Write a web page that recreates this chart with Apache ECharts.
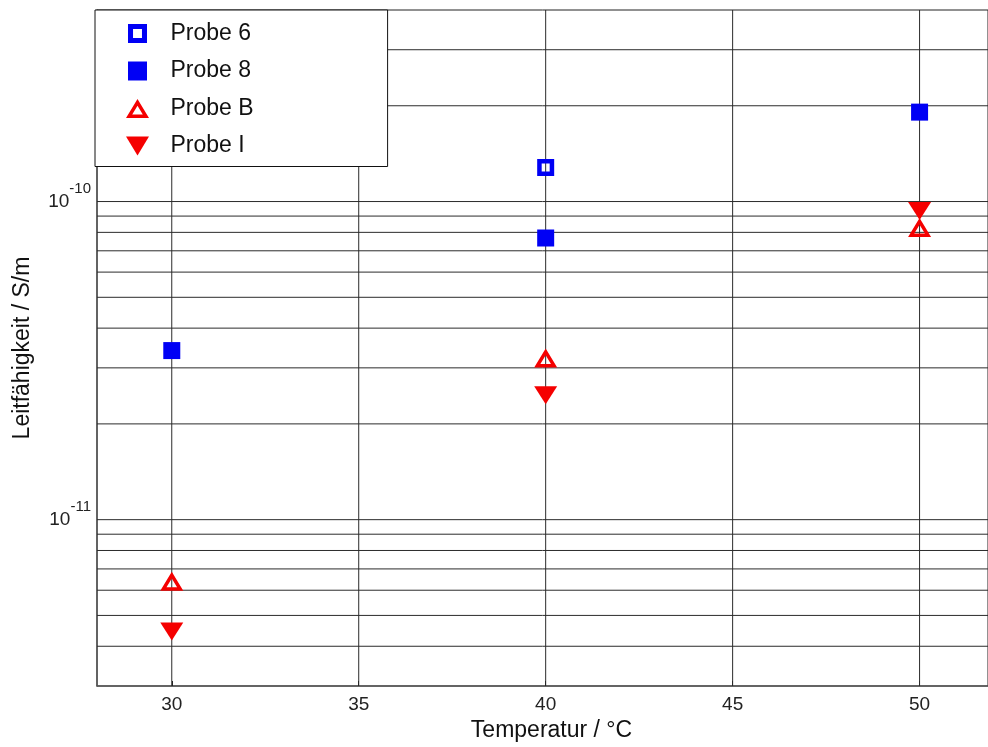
<!DOCTYPE html>
<html>
<head>
<meta charset="utf-8">
<script src="https://cdn.jsdelivr.net/npm/echarts@6/dist/echarts.min.js"></script>
<style>
  html, body { margin: 0; padding: 0; background: #fff; }
  #chart { width: 988px; height: 747px; }
</style>
</head>
<body>
<div id="chart"></div>
<script>
// Temperatures (°C) at which the conductivity was measured
const temperatures = [30, 40, 50];
// Conductivity in S/m per sample (null = not measured)
const probe6 = [null, 1.28e-10, null];
const probe8 = [3.40e-11, 7.68e-11, 1.91e-10];
const probeB = [6.40e-12, 3.22e-11, 8.29e-11];
const probeI = [4.45e-12, 2.46e-11, 9.33e-11];

// Axis ranges and ticks
const xRange = [28, 51.83];
const yRange = [3e-12, 4e-10];
const xTicks = [30, 35, 40, 45, 50];
// Horizontal reference lines (every 1..9 × 10^n inside the range)
const yGridValues = [
  4e-12, 5e-12, 6e-12, 7e-12, 8e-12, 9e-12,
  1e-11, 2e-11, 3e-11, 4e-11, 5e-11, 6e-11, 7e-11, 8e-11, 9e-11,
  1e-10, 2e-10, 3e-10
];

const FONT = "'Liberation Sans', Arial, sans-serif";
const BLUE = '#0000f5';
const RED = '#f50000';

// Marker shapes (outlined ones are drawn as rings so they look the same in the legend)
const SYM_OPEN_SQUARE = 'path://M0,0H17V17H0Z M4.5,4.5V12.5H12.5V4.5Z';
const SYM_SQUARE = 'path://M0,0H17V17H0Z';
const SYM_OPEN_TRIANGLE = 'path://M11.5,0L23,19L0,19Z M11.5,6.76L6.21,15.5L16.79,15.5Z';
const SYM_DOWN_TRIANGLE = 'path://M0,0H23L11.5,19Z';

function pairs(vals) {
  return temperatures.map((t, i) => vals[i] == null ? null : [t, vals[i]]).filter(Boolean);
}

const refLine = { color: '#2b2b2b', width: 1, type: 'solid' };

const gridSeries = []
  .concat(yGridValues.map((v, i) => ({
    name: 'h' + i, type: 'line', silent: true, z: 1, symbol: 'none',
    lineStyle: refLine, data: [[xRange[0], v], [xRange[1], v]]
  })))
  .concat(xTicks.map((x, i) => ({
    name: 'v' + i, type: 'line', silent: true, z: 1, symbol: 'none',
    lineStyle: refLine, data: [[x, yRange[0]], [x, yRange[1]]]
  })));

const chart = echarts.init(document.getElementById('chart'), null, { renderer: 'canvas' });

chart.setOption({
  backgroundColor: '#fff',
  animation: false,
  textStyle: { fontFamily: FONT },
  grid: {
    left: 97, top: 10, right: 0, bottom: 59,
    show: true, borderColor: '#222', borderWidth: 1
  },
  legend: {
    data: ['Probe 6', 'Probe 8', 'Probe B', 'Probe I'],
    orient: 'vertical',
    left: 95, top: 10,
    backgroundColor: '#fff',
    borderColor: '#111', borderWidth: 1,
    padding: [12, 134, 9, 31],
    itemWidth: 24, itemHeight: 19,
    itemGap: 14.5,
    textStyle: { fontSize: 23, color: '#111', fontFamily: FONT, padding: [0, 0, 0, 16], lineHeight: 22 }
  },
  xAxis: {
    type: 'value', min: xRange[0], max: xRange[1],
    name: 'Temperatur / °C', nameLocation: 'middle', nameGap: 33,
    nameTextStyle: { fontSize: 23, color: '#111', fontFamily: FONT, padding: [0, 0, 0, 18] },
    axisLine: { lineStyle: { color: '#555', width: 1.5 } },
    axisTick: { show: true, inside: true, length: 5, customValues: xTicks, lineStyle: { color: '#222' } },
    axisLabel: { customValues: xTicks, fontSize: 19, color: '#222', margin: 9, fontFamily: FONT },
    splitLine: { show: false }
  },
  yAxis: {
    type: 'log', logBase: 10, min: yRange[0], max: yRange[1],
    name: 'Leitfähigkeit / S/m', nameLocation: 'middle', nameGap: 63,
    nameTextStyle: { fontSize: 23, color: '#111', fontFamily: FONT },
    axisLine: { show: true, lineStyle: { color: '#555', width: 1.5 } },
    axisTick: { show: false },
    splitLine: { show: false },
    axisLabel: {
      margin: 6, showMinLabel: false, showMaxLabel: false,
      formatter: v => '{b|10}{s|' + Math.round(Math.log10(v)) + '}',
      rich: {
        b: { fontSize: 19, color: '#222', fontFamily: FONT, padding: [11, 0, 11, 0] },
        s: { fontSize: 15, color: '#222', fontFamily: FONT, verticalAlign: 'top' }
      }
    }
  },
  series: gridSeries.concat([
    {
      name: 'Probe 6', type: 'scatter', z: 5, data: pairs(probe6),
      symbol: SYM_OPEN_SQUARE, symbolSize: 17,
      itemStyle: { color: BLUE, opacity: 1 }
    },
    {
      name: 'Probe 8', type: 'scatter', z: 5, data: pairs(probe8),
      symbol: SYM_SQUARE, symbolSize: 17,
      itemStyle: { color: BLUE, opacity: 1 }
    },
    {
      name: 'Probe B', type: 'scatter', z: 5, data: pairs(probeB),
      symbol: SYM_OPEN_TRIANGLE, symbolSize: [23, 19],
      itemStyle: { color: RED, opacity: 1 }
    },
    {
      name: 'Probe I', type: 'scatter', z: 5, data: pairs(probeI),
      symbol: SYM_DOWN_TRIANGLE, symbolSize: [23, 18],
      itemStyle: { color: RED, opacity: 1 }
    }
  ])
});
</script>
</body>
</html>
